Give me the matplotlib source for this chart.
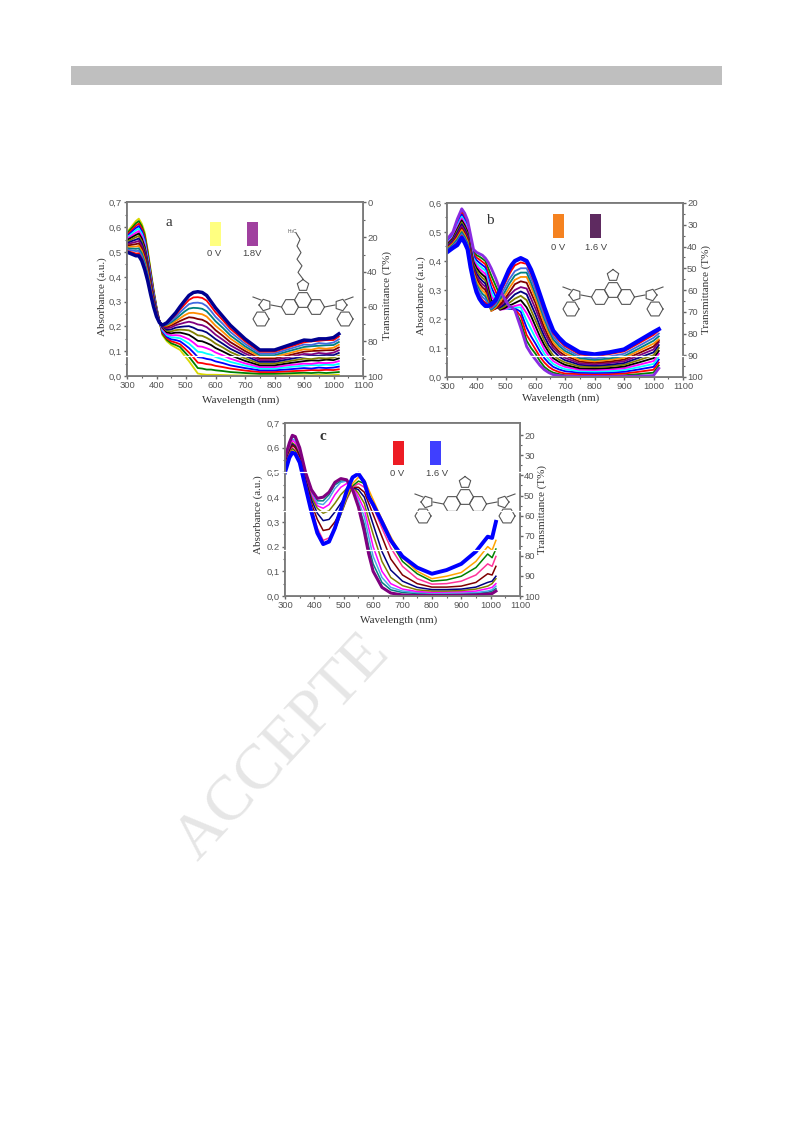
import numpy as np
import matplotlib
matplotlib.use('Agg')
import matplotlib.pyplot as plt
from matplotlib.patches import Rectangle

W, H = 793, 1123

origin_colors = ['#d8d800', 'green', 'red', 'blue', 'cyan', 'magenta', 'black', '#808000', 'navy',
                 'purple', '#800000', '#ff8c00', '#008080', '#4169e1', 'red', '#8a2be2', '#ff69b4']

# panel a, one row per wavelength, each row runs over the spectra from 0 V up
a_wave = [300, 310, 320, 330, 340, 350, 360, 370, 380, 390, 400, 410, 420, 435, 450, 465, 480, 495, 510, 525, 540,
          555, 570, 585, 600, 625, 650, 700, 750, 800, 850, 900, 925, 950, 975, 1000, 1018]
a_by_wave = [
    [.58, .575, .569, .564, .559, .553, .548, .543, .537, .532, .527, .521, .516, .511, .505, .50],
    [.595, .589, .582, .575, .568, .562, .555, .548, .541, .535, .528, .521, .514, .508, .501, .495],
    [.61, .602, .594, .586, .578, .57, .562, .554, .546, .538, .53, .522, .514, .506, .498, .49],
    [.625, .616, .606, .597, .588, .578, .569, .56, .55, .541, .532, .522, .513, .504, .494, .485],
    [.635, .625, .615, .605, .595, .585, .575, .565, .555, .545, .535, .525, .515, .505, .495, .485],
    [.615, .605, .595, .585, .575, .565, .555, .545, .535, .525, .515, .505, .495, .485, .475, .465],
    [.58, .57, .56, .55, .54, .53, .52, .51, .50, .49, .48, .47, .46, .45, .44, .43],
    [.51, .502, .493, .485, .477, .468, .46, .452, .443, .435, .427, .418, .41, .402, .393, .385],
    [.43, .423, .417, .41, .403, .397, .39, .383, .377, .37, .363, .357, .35, .343, .337, .33],
    [.35, .345, .34, .335, .33, .325, .32, .315, .31, .305, .30, .295, .29, .285, .285, .28],
    [.28, .277, .275, .272, .269, .267, .264, .261, .259, .256, .253, .251, .248, .245, .243, .24],
    [.22, .22, .22, .22, .221, .221, .222, .222, .222, .222, .221, .221, .219, .218, .216, .215],
    [.165, .17, .175, .18, .185, .19, .195, .198, .20, .20, .203, .204, .204, .204, .205, .205],
    [.14, .146, .152, .158, .164, .17, .176, .182, .187, .193, .198, .203, .207, .21, .213, .215],
    [.125, .132, .14, .148, .156, .164, .172, .18, .188, .196, .204, .21, .217, .223, .23, .235],
    [.115, .125, .135, .145, .155, .165, .175, .185, .195, .205, .213, .222, .23, .238, .247, .255],
    [.105, .117, .128, .14, .152, .163, .175, .187, .198, .21, .222, .233, .245, .257, .268, .28],
    [.082, .097, .112, .127, .142, .156, .171, .186, .2, .215, .23, .245, .26, .274, .288, .303],
    [.06, .078, .095, .113, .131, .148, .166, .184, .201, .219, .237, .254, .272, .29, .307, .325],
    [.035, .055, .075, .095, .115, .135, .155, .175, .195, .215, .235, .255, .275, .295, .317, .337],
    [.01, .032, .054, .076, .098, .12, .142, .164, .186, .208, .23, .252, .274, .296, .318, .34],
    [.007, .03, .052, .074, .096, .118, .14, .162, .183, .205, .227, .249, .271, .293, .315, .337],
    [.005, .026, .048, .069, .09, .112, .133, .154, .176, .197, .218, .24, .261, .282, .304, .325],
    [.005, .026, .046, .066, .086, .105, .125, .144, .163, .183, .203, .222, .242, .262, .281, .30],
    [.005, .023, .041, .059, .077, .095, .113, .131, .149, .167, .185, .203, .221, .239, .257, .275],
    [.004, .02, .036, .052, .067, .083, .099, .115, .13, .146, .162, .178, .194, .21, .225, .24],
    [.003, .016, .03, .043, .057, .07, .084, .097, .11, .124, .137, .151, .164, .178, .191, .205],
    [.002, .012, .022, .032, .042, .051, .061, .071, .081, .091, .101, .111, .12, .13, .14, .15],
    [.002, .009, .016, .023, .03, .036, .043, .05, .057, .064, .071, .078, .084, .091, .098, .105],
    [.002, .009, .016, .023, .03, .036, .043, .05, .057, .064, .071, .078, .084, .091, .098, .105],
    [.003, .011, .019, .027, .036, .044, .052, .06, .068, .076, .084, .092, .101, .109, .117, .125],
    [.003, .013, .022, .032, .042, .05, .06, .07, .079, .089, .098, .108, .117, .127, .136, .145],
    [.003, .012, .024, .03, .044, .049, .063, .068, .082, .087, .101, .106, .12, .125, .14, .143],
    [.004, .014, .023, .034, .043, .053, .062, .073, .082, .093, .102, .113, .122, .133, .142, .15],
    [.003, .012, .025, .032, .046, .052, .066, .071, .085, .09, .104, .11, .124, .13, .145, .15],
    [.004, .014, .024, .034, .044, .054, .064, .074, .084, .094, .104, .114, .125, .135, .145, .155],
    [.005, .016, .027, .038, .049, .06, .071, .082, .093, .104, .115, .126, .137, .148, .159, .17],
]

# panel b, same layout
b_wave = [300, 320, 335, 350, 360, 370, 380, 390, 400, 410, 420, 430, 440, 450, 465, 480, 495, 510, 520, 530, 550,
          570, 585, 600, 615, 630, 645, 660, 680, 700, 750, 800, 850, 900, 950, 1000, 1018]
b_by_wave = [
    [.475, .472, .469, .466, .463, .46, .457, .454, .451, .448, .445, .442, .439, .436, .433, .43],
    [.50, .496, .493, .489, .485, .482, .478, .474, .471, .467, .463, .46, .456, .452, .449, .445],
    [.545, .54, .534, .528, .522, .516, .51, .504, .498, .492, .486, .48, .474, .468, .462, .455],
    [.58, .573, .567, .56, .553, .547, .54, .533, .527, .52, .513, .507, .50, .493, .487, .48],
    [.565, .558, .55, .543, .536, .53, .523, .516, .51, .503, .496, .49, .483, .476, .47, .463],
    [.54, .533, .527, .52, .513, .507, .50, .493, .487, .48, .473, .467, .46, .453, .447, .44],
    [.49, .483, .475, .468, .46, .453, .445, .438, .43, .423, .415, .408, .40, .393, .385, .378],
    [.44, .433, .425, .418, .41, .403, .396, .388, .381, .374, .367, .359, .352, .345, .337, .33],
    [.43, .42, .412, .403, .393, .385, .376, .366, .357, .348, .339, .33, .32, .311, .302, .293],
    [.425, .415, .405, .394, .384, .373, .363, .353, .342, .332, .322, .311, .301, .291, .28, .27],
    [.42, .408, .397, .386, .375, .364, .353, .342, .331, .32, .309, .298, .287, .276, .265, .255],
    [.41, .40, .389, .378, .367, .355, .344, .333, .322, .311, .30, .289, .278, .267, .256, .245],
    [.395, .375, .358, .343, .33, .317, .304, .291, .28, .27, .262, .257, .253, .25, .248, .245],
    [.375, .35, .33, .31, .295, .28, .265, .25, .24, .232, .228, .228, .232, .236, .242, .25],
    [.34, .315, .295, .277, .263, .255, .248, .242, .238, .236, .236, .24, .245, .25, .258, .265],
    [.30, .28, .26, .245, .235, .232, .232, .235, .24, .245, .25, .26, .27, .28, .29, .30],
    [.27, .255, .245, .238, .234, .234, .237, .243, .25, .26, .268, .28, .292, .305, .32, .335],
    [.245, .24, .237, .235, .237, .24, .247, .255, .265, .28, .29, .305, .32, .335, .352, .37],
    [.24, .236, .235, .236, .238, .242, .25, .262, .275, .29, .305, .32, .335, .35, .37, .387],
    [.23, .232, .234, .237, .24, .245, .255, .27, .285, .30, .32, .335, .35, .365, .385, .40],
    [.17, .19, .21, .225, .24, .25, .265, .28, .295, .31, .33, .345, .36, .375, .395, .41],
    [.105, .125, .145, .17, .195, .22, .24, .265, .285, .305, .325, .345, .36, .375, .39, .40],
    [.08, .10, .12, .14, .165, .19, .21, .23, .25, .27, .29, .31, .325, .34, .355, .37],
    [.06, .08, .095, .115, .135, .155, .175, .195, .215, .235, .255, .27, .285, .30, .315, .33],
    [.04, .055, .07, .088, .105, .125, .14, .16, .175, .195, .21, .228, .243, .255, .27, .285],
    [.025, .035, .05, .065, .08, .095, .11, .125, .14, .155, .17, .185, .20, .21, .225, .24],
    [.015, .023, .035, .048, .06, .072, .085, .097, .11, .125, .137, .15, .162, .172, .185, .198],
    [.008, .015, .025, .035, .045, .055, .065, .075, .09, .10, .11, .12, .13, .14, .15, .16],
    [.005, .01, .017, .026, .034, .043, .052, .06, .07, .08, .088, .098, .107, .115, .125, .135],
    [.003, .006, .012, .02, .027, .035, .042, .05, .058, .066, .074, .082, .09, .098, .106, .115],
    [.002, .005, .01, .015, .02, .025, .03, .036, .042, .047, .053, .059, .065, .071, .078, .085],
    [.002, .005, .009, .014, .019, .024, .029, .034, .039, .044, .049, .054, .059, .064, .071, .078],
    [.002, .005, .01, .015, .02, .026, .031, .037, .042, .048, .053, .059, .064, .071, .079, .085],
    [.002, .006, .012, .018, .024, .03, .036, .042, .048, .054, .06, .066, .072, .08, .088, .095],
    [.003, .01, .018, .026, .034, .042, .05, .058, .066, .074, .082, .09, .098, .107, .116, .125],
    [.005, .015, .025, .035, .045, .055, .065, .075, .085, .095, .105, .115, .125, .135, .145, .155],
    [.03, .04, .05, .06, .07, .08, .09, .10, .11, .12, .125, .13, .14, .15, .16, .165],
]

# panel c, one row per spectrum
c_wave = [300, 315, 325, 335, 350, 370, 390, 410, 430, 450, 470, 490, 510, 530, 550, 570, 585, 600, 630, 660, 700,
          750, 800, 850, 900, 950, 990, 1005, 1018]
c_curves = [
    [.56, .62, .65, .645, .60, .50, .43, .395, .40, .42, .46, .475, .47, .43, .36, .26, .17, .10, .035, .012, .004, .002, .002, .002, .003, .004, .008, .01, .02],
    [.555, .615, .645, .64, .595, .495, .425, .385, .385, .41, .45, .465, .465, .43, .37, .29, .20, .13, .055, .025, .014, .01, .008, .008, .008, .01, .015, .02, .03],
    [.55, .605, .635, .63, .585, .49, .42, .375, .37, .395, .435, .46, .465, .44, .385, .32, .24, .16, .075, .035, .02, .014, .012, .012, .012, .014, .02, .025, .04],
    [.545, .60, .63, .62, .58, .48, .41, .365, .355, .37, .41, .44, .455, .445, .40, .35, .275, .20, .10, .05, .028, .018, .015, .016, .017, .02, .03, .035, .05],
    [.54, .59, .62, .61, .57, .475, .40, .355, .335, .345, .375, .41, .435, .445, .415, .375, .31, .25, .14, .075, .042, .025, .02, .02, .022, .028, .04, .05, .07],
    [.535, .585, .615, .605, .565, .47, .39, .335, .305, .31, .34, .375, .41, .44, .43, .40, .345, .29, .18, .105, .06, .035, .026, .026, .028, .036, .055, .06, .08],
    [.53, .58, .61, .60, .56, .465, .375, .31, .265, .27, .30, .345, .395, .44, .44, .42, .375, .33, .24, .15, .085, .05, .036, .036, .04, .055, .09, .085, .12],
    [.525, .575, .60, .59, .55, .455, .36, .275, .225, .235, .275, .33, .39, .44, .455, .44, .40, .36, .275, .195, .12, .07, .048, .05, .06, .085, .13, .12, .16],
    [.52, .57, .595, .585, .545, .45, .35, .265, .21, .225, .27, .33, .395, .445, .465, .455, .415, .375, .29, .22, .14, .09, .06, .065, .08, .115, .17, .155, .19],
    [.51, .565, .59, .58, .54, .445, .345, .26, .21, .22, .27, .335, .40, .455, .48, .47, .43, .39, .31, .24, .155, .10, .07, .08, .095, .14, .20, .185, .225],
    [.50, .56, .58, .575, .54, .44, .34, .255, .21, .22, .275, .35, .425, .48, .495, .46, .40, .37, .30, .225, .16, .115, .09, .105, .13, .18, .24, .235, .30],
]
c_colors = ['purple', 'teal', '#4aa8e8', 'magenta', '#808000', 'navy', '#800000', '#ff3399', 'green', 'orange', 'blue']

plt.rcParams['font.family'] = ['Liberation Sans', 'DejaVu Sans']
fig = plt.figure(figsize=(W / 100, H / 100), dpi=100)

# page layer, behind everything
bg = fig.add_axes([0, 0, 1, 1], zorder=0)
bg.set_xlim(0, W)
bg.set_ylim(H, 0)
bg.axis('off')
bg.add_patch(Rectangle((71, 66), 651, 19, color='#bfbfbf', lw=0))
bg.text(197, 862, 'ACCEPTE', rotation=47, rotation_mode='anchor', ha='left', va='baseline',
        family='Liberation Serif', fontsize=46, color='#e6e6e6')
bg.add_patch(Rectangle((240, 405), 320, 222, color='white', lw=0, zorder=5))


def make_panel(box, ymax, ystep, rlim, rstep, ylab_x, rlab_x, xlab_y, ylab_mid, rlab_mid):
    x0, y0, x1, y1 = box
    ax = fig.add_axes([x0 / W, 1 - y1 / H, (x1 - x0) / W, (y1 - y0) / H], zorder=2)
    ax.set_xlim(300, 1100)
    ax.set_ylim(0, ymax)
    ax.set_xticks(np.arange(300, 1101, 100))
    ax.set_xticks(np.arange(350, 1100, 100), minor=True)
    ax.set_yticks(np.arange(0, ymax + .001, ystep))
    ax.set_yticks(np.arange(ystep / 2, ymax, ystep), minor=True)
    ax.set_yticklabels([('%.1f' % v).replace('.', ',') for v in np.arange(0, ymax + .001, ystep)])
    r = ax.twinx()
    r.set_zorder(1)
    r.set_ylim(100, rlim)
    top = 0 if rlim < 5 else 20
    r.set_yticks(np.arange(top, 101, rstep))
    r.set_yticks(np.arange(top + rstep / 2, 100, rstep), minor=True)
    for a in (ax, r):
        for s in a.spines.values():
            s.set_color('#7a7a7a')
            s.set_linewidth(1.3)
        a.tick_params(which='major', length=2.5, width=1, color='#666666', labelcolor='#555555',
                      labelsize=6.8, pad=1)
        a.tick_params(which='minor', length=1.5, width=.8, color='#666666')
    r.tick_params(which='major', pad=.5)
    serif = dict(family='Liberation Serif', fontsize=8, color='#333333')
    fig.text(((x0 + x1) / 2 - 4) / W, 1 - xlab_y / H, 'Wavelength (nm)', ha='center', va='center', **serif)
    fig.text(ylab_x / W, 1 - ylab_mid / H, 'Absorbance (a.u.)', rotation=90, ha='center', va='center', **serif)
    fig.text(rlab_x / W, 1 - rlab_mid / H, 'Transmittance (T%)', rotation=90, ha='center', va='center', **serif)
    return ax


ax_a = make_panel((127, 202.5, 363, 376), .7, .1, 0, 20, 102, 387, 400, 297, 296)
a_curves = np.array(a_by_wave).T
for i, y in enumerate(a_curves[:-1]):
    ax_a.plot(a_wave, y, color=origin_colors[i % len(origin_colors)], lw=1.3)
ax_a.plot(a_wave, a_curves[-1], color='#000090', lw=2.5)

ax_b = make_panel((447, 203, 683, 377), .6, .1, 20, 10, 421, 706, 398, 296, 290)
b_curves = np.array(b_by_wave).T
for i, y in enumerate(b_curves[1:-1]):
    ax_b.plot(b_wave, y, color=origin_colors[(i + 1) % len(origin_colors)], lw=1.3)
ax_b.plot(b_wave, b_curves[0], color='#8a2be2', lw=2)
ax_b.plot(b_wave, b_curves[-1], color='#0000ff', lw=3)

ax_c = make_panel((285, 423, 520, 596), .7, .1, 13.9, 10, 258, 542, 620, 515, 510)
for y, col in zip(c_curves, c_colors):
    ax_c.plot(c_wave, y, color=col, lw=1.1)
ax_c.plot(c_wave, c_curves[0], color='purple', lw=2.2)
ax_c.plot(c_wave, c_curves[-1], color='blue', lw=2.8)

# front layer for swatches, letters, molecules and scan streaks
fg = fig.add_axes([0, 0, 1, 1], zorder=10)
fg.set_xlim(0, W)
fg.set_ylim(H, 0)
fg.axis('off')
fg.patch.set_alpha(0)

swatch_boxes = [(210, 222, '#ffff80', 214.5, 254, '0 V'), (247, 222, '#a0409f', 252, 254, '1.8V'),
                (553, 214, '#f58220', 558, 247, '0 V'), (590, 214, '#5e2a60', 596, 247, '1.6 V'),
                (393, 441, '#ed1c24', 397, 473, '0 V'), (430, 441, '#3f3fff', 437, 473, '1.6 V')]
for x, y, col, tx, ty, lab in swatch_boxes:
    fg.add_patch(Rectangle((x, y), 11, 24, color=col, lw=0))
    fg.text(tx, ty, lab, ha='center', va='center', fontsize=6.8, color='#444444')

fg.text(169, 222, 'a', family='Liberation Serif', fontsize=11, ha='center', va='center', color='#333333')
fg.text(490, 220, 'b', family='Liberation Serif', fontsize=11, ha='center', va='center', color='#333333')
fg.text(323, 437, 'c', family='Liberation Serif', fontsize=11, fontweight='bold', ha='center', va='center', color='#333333')


def ring(cx, cy, r, n, start):
    t = np.radians(start + np.arange(n + 1) * 360 / n)
    fg.plot(cx + r * np.cos(t), cy + r * np.sin(t), color='#555555', lw=.8)


def molecule(cx, cy, chain=False):
    # cx, cy is the middle ring, sizes in page pixels
    r = 8.5
    ring(cx, cy, r, 6, 0)
    ring(cx, cy - 14.5, 6, 5, -90)
    for side in (-1, 1):
        ring(cx + side * 13, cy + 7, r, 6, 0)
        sx = cx + side * 38
        sy = cy + 5
        fg.plot([cx + side * 21.5, sx - side * 6], [cy + 7, sy], color='#555555', lw=.8)
        ring(sx, sy, 6, 5, 90 - side * 90)
        ring(sx + side * 4, sy + 14, 8, 6, 0)
        fg.plot([sx + side * 4, sx + side * 12], [sy - 5, sy - 8], color='#555555', lw=.8)
    if chain:
        xs = [cx, cx - 5, cx - 1, cx - 6, cx - 2, cx - 6, cx - 3, cx - 7]
        ys = cy - 21 - np.arange(8) * 6.6
        fg.plot(xs, ys, color='#555555', lw=.8)
        fg.text(cx - 10, ys[-1] - 1, 'H$_3$C', fontsize=3.5, color='#555555', ha='center', va='center')


molecule(303, 300, chain=True)
molecule(613, 290)
molecule(465, 497)

# white scan streaks in the source image
for x0, x1, y in [(126, 366, 355.7), (447, 685, 355.5), (270, 523, 472), (270, 523, 511), (270, 523, 550)]:
    fg.plot([x0, x1], [y, y], color='white', lw=.9)

fig.savefig('out.png', dpi=100)
